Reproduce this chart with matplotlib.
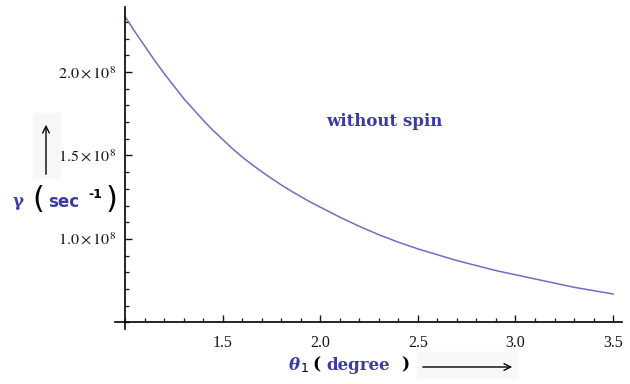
import matplotlib
matplotlib.use("Agg")
import matplotlib.pyplot as plt
from matplotlib.patches import FancyArrowPatch, Rectangle
from matplotlib.ticker import MultipleLocator, FixedLocator

# data (gamma in units of 1e8 sec^-1)
theta = [1.00, 1.05, 1.10, 1.15, 1.20, 1.25, 1.30, 1.35, 1.40, 1.45, 1.50,
         1.55, 1.60, 1.65, 1.70, 1.75, 1.80, 1.85, 1.90, 1.95, 2.00,
         2.1, 2.2, 2.3, 2.4, 2.5, 2.6, 2.7, 2.8, 2.9, 3.0, 3.1, 3.2, 3.3,
         3.4, 3.5]
gamma_e8 = [2.33, 2.24, 2.155, 2.07, 1.99, 1.915, 1.84, 1.775, 1.71, 1.65,
            1.595, 1.54, 1.49, 1.445, 1.402, 1.362, 1.323, 1.287, 1.253,
            1.22, 1.19, 1.13, 1.075, 1.025, 0.98, 0.94, 0.905, 0.87, 0.84,
            0.81, 0.785, 0.76, 0.735, 0.71, 0.69, 0.67]
xticks = [1.5, 2.0, 2.5, 3.0, 3.5]
xticklabels = ["1.5", "2.0", "2.5", "3.0", "3.5"]
yticks = [1.0e8, 1.5e8, 2.0e8]
yticklabels = [r"$1.0\times10^{8}$", r"$1.5\times10^{8}$", r"$2.0\times10^{8}$"]

plt.rcParams['mathtext.fontset'] = 'stix'
plt.rcParams['font.family'] = 'Liberation Serif'

fig = plt.figure(figsize=(6.3, 3.84), dpi=100)
ax = fig.add_axes([115/630, 1 - 329/384, (622 - 115)/630, (329 - 7)/384])

gamma = [g * 1e8 for g in gamma_e8]
ax.plot(theta, gamma, color='#6e6ec2', lw=1.1, solid_joinstyle='round')

ax.set_xlim(0.947, 3.546)
ax.set_ylim(0.46e8, 2.39e8)

for s in ['top', 'right']:
    ax.spines[s].set_visible(False)
ax.spines['left'].set_position(('data', 1.0))
ax.spines['bottom'].set_position(('data', 0.5e8))
ax.spines['left'].set_linewidth(1.2)
ax.spines['bottom'].set_linewidth(1.2)

ax.xaxis.set_major_locator(FixedLocator(xticks))
ax.set_xticklabels(xticklabels)
ax.xaxis.set_minor_locator(MultipleLocator(0.1))
ax.yaxis.set_major_locator(FixedLocator(yticks))
ax.set_yticklabels(yticklabels)
ax.yaxis.set_minor_locator(MultipleLocator(0.1e8))

ax.tick_params(which='major', direction='in', length=5, width=1.0, labelsize=11.5, colors='#151515')
ax.tick_params(which='minor', direction='in', length=2.8, width=0.9, colors='#151515')
ax.tick_params(axis='y', which='major', pad=7)
ax.tick_params(axis='x', which='major', pad=9)

blue = '#3c3ca0'
# annotation
fig.text(384/630, 1 - 122/384, 'without spin', color=blue, fontsize=12,
         fontweight='bold', family='DejaVu Serif', ha='center', va='center')

# y label pieces
fig.add_artist(Rectangle((33/630, 1 - 178/384), 27/630, 65/384,
                         transform=fig.transFigure, color='#f7f7fa', zorder=0))
fig.add_artist(FancyArrowPatch((46/630, 1 - 177/384), (46/630, 1 - 122/384),
               transform=fig.transFigure, arrowstyle='->', mutation_scale=12, lw=1.0, color='black'))
fig.text(18/630, 1 - 202/384, 'γ', color=blue, fontsize=12, fontweight='bold',
         family='DejaVu Serif', ha='center', va='center')
fig.text(38/630, 1 - 200/384, '(', color='black', fontsize=22,
         family='DejaVu Sans', ha='center', va='center')
fig.text(63.5/630, 1 - 202/384, 'sec', color=blue, fontsize=12, fontweight='bold',
         family='DejaVu Sans', ha='center', va='center')
fig.text(95.5/630, 1 - 194/384, '-1', color='black', fontsize=9, fontweight='bold',
         family='DejaVu Sans', ha='center', va='center')
fig.text(111/630, 1 - 200/384, ')', color='black', fontsize=22,
         family='DejaVu Sans', ha='center', va='center')

# x label pieces
fig.add_artist(Rectangle((417/630, 1 - 378/384), 100/630, 26/384,
                         transform=fig.transFigure, color='#f8f8fa', zorder=0))
fig.text(294/630, 1 - 365/384, 'θ', color=blue, fontsize=12, fontweight='bold',
         style='italic', family='DejaVu Serif', ha='center', va='center')
fig.text(305/630, 1 - 369/384, '1', color='black', fontsize=9, family='DejaVu Sans',
         ha='center', va='center')
fig.text(316/630, 1 - 365/384, '(', color='black', fontsize=12.5, fontweight='bold',
         family='DejaVu Serif', ha='center', va='center')
fig.text(358/630, 1 - 365/384, 'degree', color=blue, fontsize=12, fontweight='bold',
         family='DejaVu Serif', ha='center', va='center')
fig.text(405/630, 1 - 365/384, ')', color='black', fontsize=12.5, fontweight='bold',
         family='DejaVu Serif', ha='center', va='center')
fig.add_artist(FancyArrowPatch((420/630, 1 - 367/384), (515/630, 1 - 367/384),
               transform=fig.transFigure, arrowstyle='->', mutation_scale=12, lw=1.0, color='black'))

fig.savefig('out.png', dpi=100, facecolor='white')
